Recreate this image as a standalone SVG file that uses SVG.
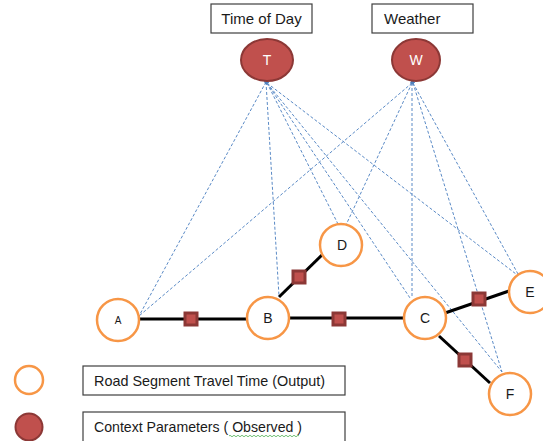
<svg xmlns="http://www.w3.org/2000/svg" width="543" height="441" viewBox="0 0 543 441">
  <style>
    .box { fill: #ffffff; stroke: #3f3f3f; stroke-width: 1.2; }
    .label { font-family: "Liberation Sans", Arial, sans-serif; fill: #1a1a1a; }
    .road { fill: #ffffff; stroke: #F79646; stroke-width: 2.5; }
    .ctx { fill: #C0504D; stroke: #8C3836; stroke-width: 2; }
    .seg { stroke: #000000; stroke-width: 3; fill: none; }
    .sq { fill: #C0504D; stroke: #8C3836; stroke-width: 3; }
    .dep { stroke: #5A8AC6; stroke-width: 1; stroke-dasharray: 3 2; fill: none; marker-start: url(#tip); }
  </style>
  <defs>
    <marker id="tip" viewBox="0 0 6 6" refX="1" refY="3" markerWidth="4" markerHeight="4" orient="auto-start-reverse">
      <path d="M0,0 L6,3 L0,6 z" fill="#4F81BD"/>
    </marker>
  </defs>
  <rect width="543" height="441" fill="#ffffff"/>

  <!-- dependency links from context parameters to road segments -->
  <g id="connectors">
    <line class="dep" x1="266" y1="82" x2="139" y2="316"/>
    <line class="dep" x1="266" y1="82" x2="279" y2="296"/>
    <line class="dep" x1="267" y1="83" x2="338" y2="224"/>
    <line class="dep" x1="267" y1="83" x2="410" y2="298"/>
    <line class="dep" x1="267" y1="83" x2="516" y2="274"/>
    <line class="dep" x1="267" y1="83" x2="502" y2="372"/>
    <line class="dep" x1="412" y1="83" x2="139" y2="316"/>
    <line class="dep" x1="412" y1="83" x2="346" y2="225"/>
    <line class="dep" x1="412" y1="83" x2="412" y2="297"/>
    <line class="dep" x1="413" y1="83" x2="518" y2="274"/>
    <line class="dep" x1="413" y1="83" x2="502" y2="372"/>

    <!-- road segments -->
    <line class="seg" x1="139" y1="319" x2="247" y2="319"/>
    <line class="seg" x1="289" y1="318" x2="404" y2="318"/>
    <line class="seg" x1="279" y1="297" x2="323" y2="254"/>
    <line class="seg" x1="445" y1="313" x2="509" y2="291"/>
    <line class="seg" x1="439" y1="336" x2="490" y2="383"/>
    <rect class="sq" x="185" y="313" width="12" height="12"/>
    <rect class="sq" x="333" y="313" width="12" height="12"/>
    <rect class="sq" x="293" y="271" width="12" height="12"/>
    <rect class="sq" x="473" y="293" width="12" height="12"/>
    <rect class="sq" x="459" y="354" width="12" height="12"/>
  </g>

  <g id="time-of-day">
    <rect class="box" x="211" y="4" width="101" height="29"/>
    <text class="label" x="261.5" y="24" font-size="15" text-anchor="middle">Time of Day</text>
  </g>
  <g id="weather">
    <rect class="box" x="372" y="4" width="101" height="29"/>
    <text class="label" x="384" y="24" font-size="15">Weather</text>
  </g>

  <g id="node-T">
    <ellipse class="ctx" cx="267" cy="60" rx="26" ry="21"/>
    <text x="267" y="65" font-size="14" text-anchor="middle" fill="#ffffff" font-family="Liberation Sans, Arial, sans-serif">T</text>
  </g>
  <g id="node-W">
    <ellipse class="ctx" cx="416" cy="60" rx="24" ry="21"/>
    <text x="416" y="65" font-size="14" text-anchor="middle" fill="#ffffff" font-family="Liberation Sans, Arial, sans-serif">W</text>
  </g>

  <g id="node-A">
    <circle class="road" cx="118" cy="320" r="21"/>
    <text class="label" x="118" y="324" font-size="10" text-anchor="middle">A</text>
  </g>
  <g id="node-B">
    <circle class="road" cx="268" cy="318" r="21"/>
    <text class="label" x="268" y="323" font-size="14" text-anchor="middle">B</text>
  </g>
  <g id="node-C">
    <circle class="road" cx="425" cy="318" r="21"/>
    <text class="label" x="425" y="323" font-size="14" text-anchor="middle">C</text>
  </g>
  <g id="node-D">
    <circle class="road" cx="341" cy="245" r="21"/>
    <text class="label" x="342" y="250" font-size="14" text-anchor="middle">D</text>
  </g>
  <g id="node-E">
    <circle class="road" cx="530" cy="292" r="21"/>
    <text class="label" x="530" y="297" font-size="14" text-anchor="middle">E</text>
  </g>
  <g id="node-F">
    <circle class="road" cx="510" cy="394" r="21"/>
    <text class="label" x="510" y="399" font-size="14" text-anchor="middle">F</text>
  </g>

  <!-- legend -->
  <g id="legend-output">
    <circle class="road" cx="29" cy="380" r="14"/>
    <rect class="box" x="83" y="366" width="262" height="29"/>
    <text class="label" x="94" y="386" font-size="15" textLength="231" lengthAdjust="spacingAndGlyphs">Road Segment Travel Time (Output)</text>
  </g>
  <g id="legend-observed">
    <circle class="ctx" cx="29" cy="427" r="13.5"/>
    <rect class="box" x="83" y="412" width="262" height="40"/>
    <text class="label" x="94" y="432" font-size="15" textLength="208" lengthAdjust="spacingAndGlyphs">Context Parameters ( Observed )</text>
    <path d="M229,436 q1,-1.5 2,0 t2,0 t2,0 t2,0 t2,0 t2,0 t2,0 t2,0 t2,0 t2,0 t2,0 t2,0 t2,0 t2,0 t2,0 t2,0 t2,0 t2,0 t2,0 t2,0 t2,0 t2,0 t2,0 t2,0 t2,0 t2,0 t2,0 t2,0 t2,0 t2,0 t2,0 t2,0 t2,0 t2,0 t2,0" fill="none" stroke="#4CAF50" stroke-width="0.8"/>
  </g>
</svg>
